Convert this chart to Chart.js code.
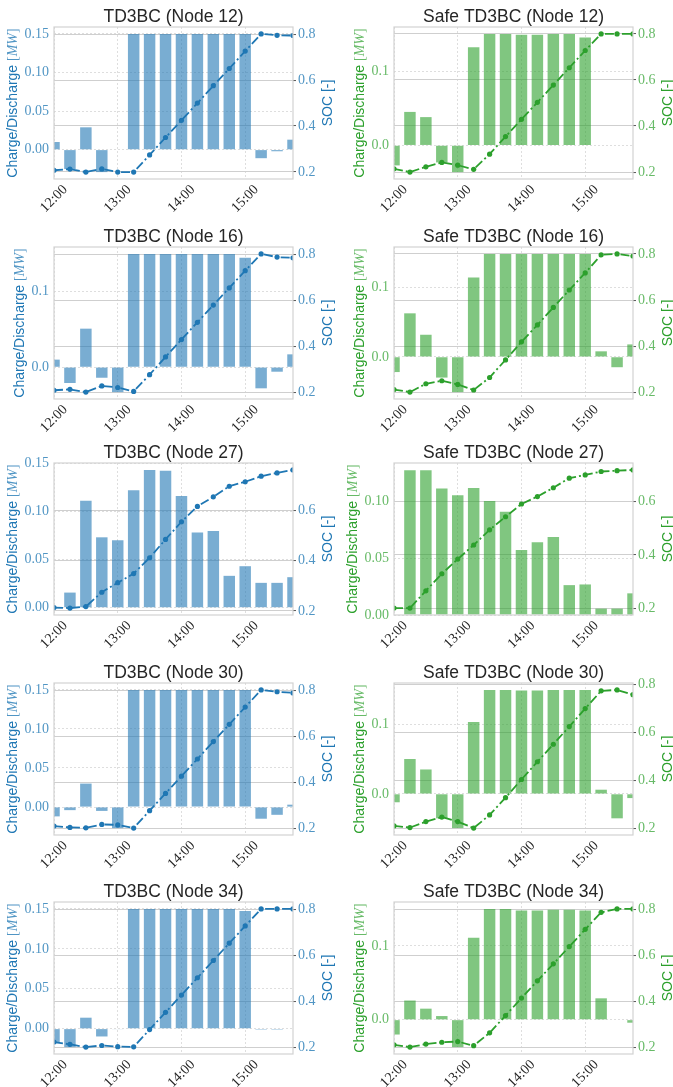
<!DOCTYPE html>
<html>
<head>
<meta charset="utf-8">
<script src="https://cdn.jsdelivr.net/npm/chart.js@4.4.0/dist/chart.umd.min.js"></script>
<style>
    body { margin: 0; background: #ffffff; }
    #wrap { position: relative; width: 673px; height: 1087px; }
    #wrap canvas { position: absolute; }
</style>
</head>
<body>
<div id="wrap"></div>
<script>
// 15 minute steps, 12:00 .. 15:45
const times = ["12:00", "12:15", "12:30", "12:45", "13:00", "13:15", "13:30", "13:45",
               "14:00", "14:15", "14:30", "14:45", "15:00", "15:15", "15:30", "15:45"];
const hourTicks = [0, 4, 8, 12];

// charge / discharge power [MW] and state of charge [-]
const td3bcPower12 = [0.010, -0.025, 0.029, -0.029, 0.000, 0.150, 0.150, 0.150, 0.150, 0.150, 0.150, 0.150, 0.150, -0.011, -0.002, 0.013];
const td3bcSoc12   = [0.207, 0.212, 0.199, 0.213, 0.199, 0.199, 0.274, 0.350, 0.425, 0.500, 0.576, 0.651, 0.727, 0.802, 0.796, 0.795];
const safePower12  = [-0.027, 0.045, 0.038, -0.023, -0.036, 0.132, 0.150, 0.150, 0.149, 0.149, 0.150, 0.150, 0.145, 0.000, 0.000, 0.000];
const safeSoc12    = [0.214, 0.200, 0.223, 0.242, 0.230, 0.212, 0.278, 0.354, 0.429, 0.503, 0.578, 0.653, 0.728, 0.800, 0.800, 0.800];

const td3bcPower16 = [0.010, -0.021, 0.051, -0.014, -0.033, 0.150, 0.150, 0.150, 0.150, 0.150, 0.150, 0.150, 0.145, -0.028, -0.006, 0.017];
const td3bcSoc16   = [0.209, 0.213, 0.201, 0.228, 0.221, 0.204, 0.277, 0.354, 0.430, 0.505, 0.580, 0.655, 0.730, 0.803, 0.789, 0.786];
const safePower16  = [-0.022, 0.063, 0.032, -0.030, -0.051, 0.115, 0.149, 0.149, 0.149, 0.149, 0.149, 0.149, 0.149, 0.008, -0.015, 0.018];
const safeSoc16    = [0.214, 0.203, 0.239, 0.252, 0.236, 0.212, 0.266, 0.342, 0.420, 0.493, 0.569, 0.644, 0.718, 0.796, 0.800, 0.791];

const td3bcPower27 = [-0.0005, 0.0156, 0.111, 0.073, 0.070, 0.122, 0.143, 0.142, 0.116, 0.078, 0.0795, 0.033, 0.043, 0.0257, 0.0257, 0.0316];
const td3bcSoc27   = [0.213, 0.211, 0.217, 0.274, 0.312, 0.348, 0.411, 0.484, 0.554, 0.615, 0.653, 0.695, 0.713, 0.735, 0.748, 0.760];
const safePower27  = [0.000, 0.127, 0.127, 0.111, 0.105, 0.1115, 0.100, 0.0906, 0.057, 0.0638, 0.0685, 0.0262, 0.0268, 0.0056, 0.0056, 0.019];
const safeSoc27    = [0.200, 0.200, 0.265, 0.329, 0.384, 0.437, 0.494, 0.543, 0.591, 0.619, 0.652, 0.688, 0.700, 0.713, 0.716, 0.719];

const td3bcPower30 = [-0.012, -0.004, 0.030, -0.005, -0.027, 0.150, 0.150, 0.150, 0.150, 0.150, 0.150, 0.150, 0.150, -0.015, -0.010, 0.003];
const td3bcSoc30   = [0.209, 0.203, 0.201, 0.216, 0.214, 0.200, 0.276, 0.351, 0.426, 0.501, 0.577, 0.652, 0.727, 0.802, 0.794, 0.789];
const safePower30  = [-0.012, 0.050, 0.035, -0.035, -0.049, 0.103, 0.149, 0.149, 0.148, 0.148, 0.149, 0.149, 0.149, 0.006, -0.035, -0.006];
const safeSoc30    = [0.210, 0.203, 0.228, 0.247, 0.228, 0.201, 0.256, 0.328, 0.404, 0.478, 0.551, 0.625, 0.700, 0.774, 0.778, 0.758];

const td3bcPower34 = [-0.018, -0.023, 0.0138, -0.0097, -0.0004, 0.150, 0.150, 0.150, 0.150, 0.150, 0.150, 0.150, 0.1475, -0.001, -0.001, 0.0005];
const td3bcSoc34   = [0.223, 0.213, 0.201, 0.208, 0.203, 0.202, 0.277, 0.352, 0.427, 0.502, 0.577, 0.652, 0.727, 0.801, 0.801, 0.801];
const safePower34  = [-0.020, 0.026, 0.015, 0.005, -0.037, 0.111, 0.150, 0.150, 0.148, 0.148, 0.149, 0.149, 0.148, 0.029, 0.000, -0.004];
const safeSoc34    = [0.210, 0.200, 0.213, 0.221, 0.224, 0.206, 0.262, 0.337, 0.413, 0.488, 0.562, 0.637, 0.712, 0.786, 0.801, 0.801];

// tick labels
const powerTicksFine   = [0.00, 0.05, 0.10, 0.15];
const powerTicksCoarse = [0.0, 0.1];
const powerTicks27Safe = [0.00, 0.05, 0.10];
const socTicksFull     = [0.2, 0.4, 0.6, 0.8];
const socTicksShort    = [0.2, 0.4, 0.6];

const panels = [
    { title: "TD3BC (Node 12)",      power: td3bcPower12, soc: td3bcSoc12, pTicks: powerTicksFine,   sTicks: socTicksFull,  safe: false },
    { title: "Safe TD3BC (Node 12)", power: safePower12,  soc: safeSoc12,  pTicks: powerTicksCoarse, sTicks: socTicksFull,  safe: true },
    { title: "TD3BC (Node 16)",      power: td3bcPower16, soc: td3bcSoc16, pTicks: powerTicksCoarse, sTicks: socTicksFull,  safe: false },
    { title: "Safe TD3BC (Node 16)", power: safePower16,  soc: safeSoc16,  pTicks: powerTicksCoarse, sTicks: socTicksFull,  safe: true },
    { title: "TD3BC (Node 27)",      power: td3bcPower27, soc: td3bcSoc27, pTicks: powerTicksFine,   sTicks: socTicksShort, safe: false },
    { title: "Safe TD3BC (Node 27)", power: safePower27,  soc: safeSoc27,  pTicks: powerTicks27Safe, sTicks: socTicksShort, safe: true },
    { title: "TD3BC (Node 30)",      power: td3bcPower30, soc: td3bcSoc30, pTicks: powerTicksFine,   sTicks: socTicksFull,  safe: false },
    { title: "Safe TD3BC (Node 30)", power: safePower30,  soc: safeSoc30,  pTicks: powerTicksCoarse, sTicks: socTicksFull,  safe: true },
    { title: "TD3BC (Node 34)",      power: td3bcPower34, soc: td3bcSoc34, pTicks: powerTicksFine,   sTicks: socTicksFull,  safe: false },
    { title: "Safe TD3BC (Node 34)", power: safePower34,  soc: safeSoc34,  pTicks: powerTicksCoarse, sTicks: socTicksFull,  safe: true },
];

const BLUE = { line: "#1f77b4", bar: "rgba(31,119,180,0.6)", tick: "rgba(31,119,180,0.78)" };
const GREEN = { line: "#2ca02c", bar: "rgba(44,160,44,0.6)", tick: "rgba(44,160,44,0.72)" };

// grid placement (plot area of every panel)
const rowTops = [27, 247, 463, 683, 902];
const PLOT_H = 152;
const TOP_PAD = 30;
const X_AXIS_H = 40;
const cols = [
    { x: 0,   w: 336, plotLeft: 54, plotRight: 293 },
    { x: 336, w: 337, plotLeft: 58, plotRight: 297 },
];

const SANS = '"Liberation Sans", Arial, sans-serif';
const SERIF = '"Liberation Serif", "Times New Roman", serif';

// matplotlib style autoscale: 5% margins, bars stick to zero
function autoRange(vals, stickToZero) {
    let lo = Math.min(...vals), hi = Math.max(...vals);
    if (stickToZero) { lo = Math.min(lo, 0); hi = Math.max(hi, 0); }
    const m = (hi - lo) * 0.05;
    return {
        min: stickToZero && lo === 0 ? 0 : lo - m,
        max: stickToZero && hi === 0 ? 0 : hi + m,
    };
}

// frame, title, rotated time labels and the two axis titles
const panelDecor = {
    id: "panelDecor",
    afterDatasetsDraw(chart) {
        const { ctx, chartArea: a } = chart;
        ctx.save();
        ctx.strokeStyle = "#d2d2d2";
        ctx.lineWidth = 1.2;
        ctx.strokeRect(a.left, a.top, a.right - a.left, a.bottom - a.top);
        ctx.restore();
    },
    afterDraw(chart, args, opts) {
        const { ctx, chartArea: a, scales } = chart;
        ctx.save();

        ctx.fillStyle = "#262626";
        ctx.font = `17.5px ${SANS}`;
        ctx.textAlign = "center";
        ctx.textBaseline = "alphabetic";
        ctx.fillText(opts.title, (a.left + a.right) / 2, a.top - 5);

        // time labels, rotated 45 deg and centred under their tick
        ctx.font = `14px ${SERIF}`;
        scales.x.ticks.forEach(t => {
            const label = times[t.value];
            const x = scales.x.getPixelForValue(t.value);
            const w = ctx.measureText(label).width;
            const half = (w + 10) * Math.SQRT1_2 / 2;
            ctx.save();
            ctx.translate(x, a.bottom + 5 + half);
            ctx.rotate(-Math.PI / 4);
            ctx.textAlign = "center";
            ctx.textBaseline = "middle";
            ctx.fillText(label, 0, 0);
            ctx.restore();
        });

        // left title: sans text + math style [MW]
        let maxW = 0;
        ctx.font = `14px ${SERIF}`;
        scales.y.ticks.forEach(t => { maxW = Math.max(maxW, ctx.measureText(t.label).width); });
        const lx = a.left - 5 - maxW - 11;
        const cy = (a.top + a.bottom) / 2;
        const parts = [
            { text: "Charge/Discharge ", font: `14px ${SANS}`, color: opts.color },
            { text: "[", font: `14px ${SERIF}`, color: opts.tick },
            { text: "MW", font: `italic 14px ${SERIF}`, color: opts.tick },
            { text: "]", font: `14px ${SERIF}`, color: opts.tick },
        ];
        let total = 0;
        parts.forEach(p => { ctx.font = p.font; p.w = ctx.measureText(p.text).width; total += p.w; });
        ctx.save();
        ctx.translate(lx, cy);
        ctx.rotate(-Math.PI / 2);
        ctx.textAlign = "left";
        ctx.textBaseline = "middle";
        let px = -total / 2;
        parts.forEach(p => {
            ctx.font = p.font;
            ctx.fillStyle = p.color;
            ctx.fillText(p.text, px, 0);
            px += p.w;
        });
        ctx.restore();

        // right title
        ctx.save();
        ctx.translate(a.right + 35, cy);
        ctx.rotate(-Math.PI / 2);
        ctx.fillStyle = opts.color;
        ctx.font = `14px ${SANS}`;
        ctx.textAlign = "center";
        ctx.textBaseline = "middle";
        ctx.fillText("SOC [-]", 0, 0);
        ctx.restore();

        ctx.restore();
    },
};

function renderPanel(panel, index) {
    const row = Math.floor(index / 2);
    const col = cols[index % 2];
    const colors = panel.safe ? GREEN : BLUE;
    const height = TOP_PAD + PLOT_H + X_AXIS_H;

    const canvas = document.createElement("canvas");
    canvas.width = col.w;
    canvas.height = height;
    canvas.style.left = col.x + "px";
    canvas.style.top = (rowTops[row] - TOP_PAD) + "px";
    document.getElementById("wrap").appendChild(canvas);

    const pRange = autoRange(panel.power, true);
    const sRange = autoRange(panel.soc, false);
    const step = panel.pTicks[1] - panel.pTicks[0];
    const decimals = step < 0.09 ? 2 : 1;

    new Chart(canvas, {
        type: "bar",
        data: {
            datasets: [
                {
                    type: "line",
                    data: panel.soc.map((v, i) => ({ x: i, y: v })),
                    yAxisID: "y1",
                    borderColor: colors.line,
                    backgroundColor: colors.line,
                    borderWidth: 1.8,
                    borderDash: [9, 3, 2, 3],
                    pointRadius: 2.6,
                    pointBorderWidth: 0,
                    order: 0,
                },
                {
                    type: "bar",
                    data: panel.power.map((v, i) => ({ x: i, y: v })),
                    yAxisID: "y",
                    backgroundColor: colors.bar,
                    barPercentage: 0.72,
                    categoryPercentage: 1,
                    order: 1,
                },
            ],
        },
        options: {
            responsive: false,
            animation: false,
            events: [],
            layout: { padding: { top: TOP_PAD, left: 0, right: 0, bottom: 0 } },
            plugins: {
                legend: { display: false },
                tooltip: { enabled: false },
                panelDecor: { title: panel.title, color: colors.line, tick: colors.tick },
            },
            scales: {
                x: {
                    type: "linear",
                    min: 0,
                    max: times.length - 1,
                    offset: false,
                    afterFit: s => { s.height = X_AXIS_H; },
                    afterBuildTicks: s => { s.ticks = hourTicks.map(v => ({ value: v })); },
                    ticks: { display: false },
                    grid: { offset: false, color: "#d6d6d6", lineWidth: 0.8, drawTicks: false },
                    border: { display: false, dash: [2, 2] },
                },
                y: {
                    type: "linear",
                    position: "left",
                    min: pRange.min,
                    max: pRange.max,
                    afterFit: s => { s.width = col.plotLeft; },
                    afterBuildTicks: s => { s.ticks = panel.pTicks.map(v => ({ value: v })); },
                    ticks: {
                        padding: 5,
                        color: colors.tick,
                        font: { family: SERIF, size: 14 },
                        callback: v => v.toFixed(decimals),
                    },
                    grid: { color: "#d6d6d6", lineWidth: 0.8, drawTicks: false },
                    border: { display: false, dash: [2, 2] },
                },
                y1: {
                    type: "linear",
                    position: "right",
                    min: sRange.min,
                    max: sRange.max,
                    afterFit: s => { s.width = col.w - col.plotRight; },
                    afterBuildTicks: s => { s.ticks = panel.sTicks.map(v => ({ value: v })); },
                    ticks: {
                        padding: 2,
                        color: colors.tick,
                        font: { family: SERIF, size: 14 },
                        callback: v => v.toFixed(1),
                    },
                    grid: {
                        color: "#cfcfcf",
                        lineWidth: 1.1,
                        drawTicks: true,
                        tickLength: 3,
                        tickColor: "#555555",
                        tickWidth: 1,
                    },
                    border: { display: false },
                },
            },
        },
        plugins: [panelDecor],
    });
}

panels.forEach(renderPanel);
</script>
</body>
</html>
